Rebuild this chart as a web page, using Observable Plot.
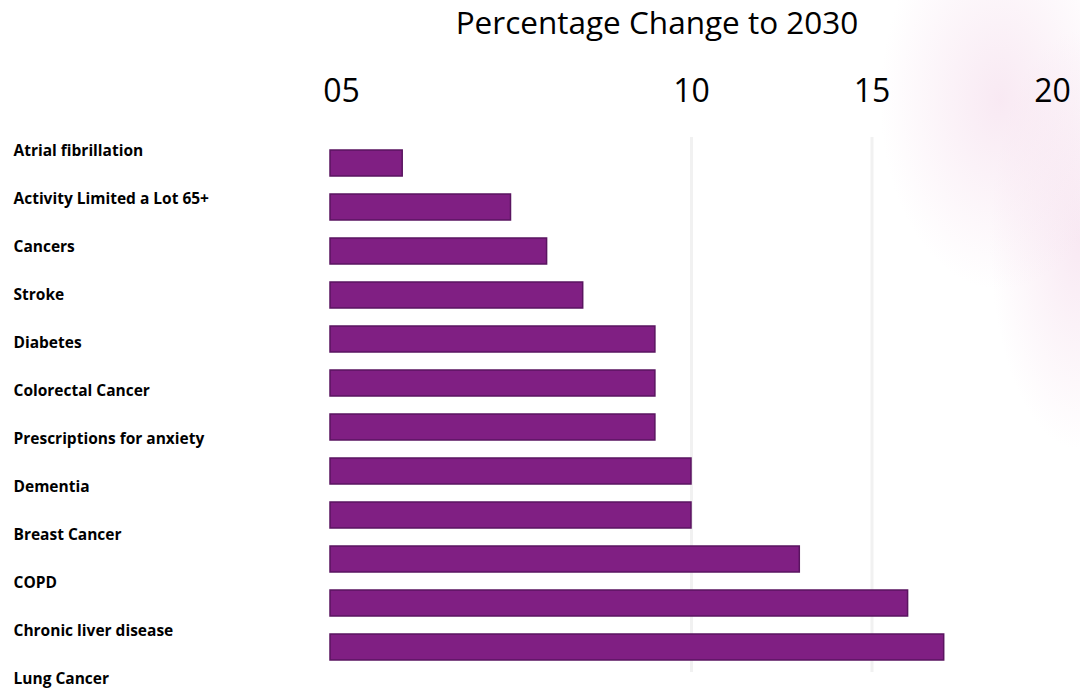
<!DOCTYPE html>
<html>
<head>
<meta charset="utf-8">
<script src="https://cdn.jsdelivr.net/npm/d3@7"></script>
<script src="https://cdn.jsdelivr.net/npm/@observablehq/plot@0.6"></script>
<style>
  html, body { margin: 0; padding: 0; background: #fff; }
  #wrap {
    position: relative; width: 1080px; height: 690px; overflow: hidden;
    background:
      radial-gradient(ellipse 120px 190px at 1000px 100px, rgba(243,215,233,0.55), rgba(255,255,255,0) 100%),
      radial-gradient(ellipse 90px 210px at 1080px 240px, rgba(243,215,233,0.55), rgba(255,255,255,0) 100%),
      #fff;
  }
  #title {
    position: absolute; top: 6px; left: 657px; transform: translateX(-50%);
    white-space: nowrap; font-family: "Open Sans", sans-serif; font-size: 31.5px;
    line-height: 31.5px; color: #000;
  }
  #main, #labels { position: absolute; top: 0; left: 0; }
  #labels { pointer-events: none; }
</style>
</head>
<body>
<div id="wrap">
  <div id="title">Percentage Change to 2030</div>
  <div id="main"></div>
  <div id="labels"></div>
</div>
<script>
const categories = [
  "Atrial fibrillation",
  "Activity Limited a Lot 65+",
  "Cancers",
  "Stroke",
  "Diabetes",
  "Colorectal Cancer",
  "Prescriptions for anxiety",
  "Dementia",
  "Breast Cancer",
  "COPD",
  "Chronic liver disease",
  "Lung Cancer"
];
const values = [2, 5, 6, 7, 9, 9, 9, 10, 10, 13, 16, 17];
const tickValues = [0, 10, 15, 20];
const tickLabels = ["05", "10", "15", "20"];
const gridValues = [10, 15];

const data = categories.map((c, i) => ({category: c, value: values[i]}));
const fmt = d => tickLabels[tickValues.indexOf(d)];

const axisStyle = {
  anchor: "top", tickSize: 0, tickPadding: 36, fontSize: 32, fill: "#000",
  tickFormat: fmt, label: null
};

const main = Plot.plot({
  width: 1080, height: 690,
  marginLeft: 330, marginRight: 28, marginTop: 137, marginBottom: 18,
  style: {fontFamily: "Open Sans", background: "transparent"},
  x: {domain: [0, 20], axis: null},
  y: {domain: categories, axis: null, paddingInner: 0.42, paddingOuter: 0.21},
  marks: [
    Plot.ruleX(gridValues, {stroke: "#f1f1f1", strokeWidth: 3}),
    Plot.barX(data, {x: "value", y: "category", fill: "#801f83", stroke: "#5a1460", strokeWidth: 1.5}),
    Plot.axisX(tickValues.slice(0, 1), {...axisStyle, dx: 11}),
    Plot.axisX(tickValues.slice(1), axisStyle)
  ]
});
document.getElementById("main").appendChild(main);

const labels = Plot.plot({
  width: 330, height: 690,
  marginLeft: 0, marginRight: 0, marginTop: 151, marginBottom: 11,
  style: {fontFamily: "Open Sans", background: "transparent", overflow: "visible"},
  y: {type: "point", domain: categories, padding: 0},
  marks: [
    Plot.axisY({anchor: "left", tickSize: 0, tickPadding: 0, textAnchor: "start", dx: 13,
      fontSize: 15.5, fontWeight: "bold", fill: "#000", label: null})
  ]
});
document.getElementById("labels").appendChild(labels);
</script>
</body>
</html>
